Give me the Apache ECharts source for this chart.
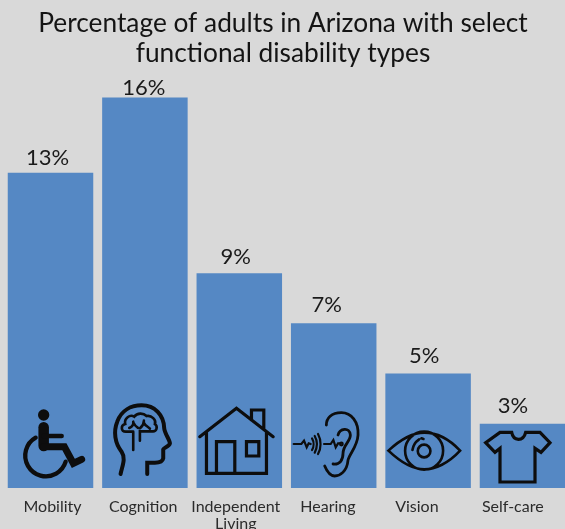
<!DOCTYPE html>
<html>
<head>
<meta charset="utf-8">
<style>
  html, body { margin: 0; padding: 0; background: #d9d9d9; }
  #main { width: 565px; height: 529px; }
</style>
<script src="https://cdn.jsdelivr.net/npm/echarts@6/dist/echarts.min.js"></script>
</head>
<body>
<div id="main"></div>
<script>
var categories = ["Mobility", "Cognition", "Independent\nLiving", "Hearing", "Vision", "Self-care"];
var percents = [13, 16, 9, 7, 5, 3];
var labelGaps = [4, -1, 5, 7, 7, 7];
// the labels in the original do not sit centred on their bars
var valueLabelShift = [-3, -1, -3.5, -7, -4, -9.5];
var axisLabelShift = [2, -1.7, -3.5, -5.8, -11.2, -9.7];

// icon outlines, traced at 3x: [path, line width]. box = left edge of a 270 unit box
var iconBoxLeft = [16.5, 300, 583.5, 12, 294, 577.5];
var icons = [
  [
    ["M123 75 A8 8 0 1 1 139 75 A8 8 0 1 1 123 75", 6],
    ["M131 112 L131 168", 10.5],
    ["M131 138 L185 138", 4.5],
    ["M131 170 L193 170 L220 220 L245 208", 7],
    ["M107 143 A62 62 0 1 0 197 215", 4.3]
  ],
  [
    ["M362 252 C368 225 378 205 365 185 C345 160 340 125 352 95 C365 60 395 46 425 46 C465 46 492 75 493 115 C494 130 510 150 510 160 C508 170 492 172 490 178 L490 205 C488 215 478 218 465 218 L442 218 L442 252", 4],
    ["M400 125 L378 125 C362 125 362 105 376 102 C372 85 390 72 403 80 C412 68 430 68 440 78 C455 75 470 90 465 102 C475 110 470 125 458 124 L420 124 L420 152 M400 125 L400 180 M400 95 C402 105 392 112 388 114 M402 100 C405 108 412 112 415 114 M432 92 C432 105 425 110 420 115 M432 98 C436 108 445 110 450 116", 2.6]
  ],
  [
    ["M600 140 L710 55 L820 140 M755 90 L755 60 L792 60 L792 118 M620 128 L620 250 L800 250 L800 128 M650 250 L650 155 L705 155 L705 250 M740 155 L777 155 L777 198 L740 198 Z", 3.2]
  ],
  [
    ["M125 105 C125 85 140 68 170 68 C200 68 222 95 220 135 C218 170 195 190 190 210 C187 245 165 258 150 258 C135 258 125 240 120 228 M160 135 C165 115 195 110 197 135 C197 155 175 165 175 190 C175 210 165 225 145 222", 2.8],
    ["M27 162 L50 162 L58 152 L66 172 L72 160 L78 162 M118 162 L138 162 L146 150 L153 172 L160 160 L166 160 M166 162 A4 4 0 1 1 174 162 A4 4 0 1 1 166 162 M82 145 C88 155 88 170 82 180 M90 138 C98 152 98 172 90 188 M100 132 C110 150 110 175 100 192", 2.2]
  ],
  [
    ["M310 182 C350 145 385 128 418 128 C450 128 490 145 525 182 C490 220 450 238 418 238 C385 238 350 220 310 182 Z M360 182 A57 57 0 1 1 474 182 A57 57 0 1 1 360 182 M398 183 A19 19 0 1 1 436 183 A19 19 0 1 1 398 183 M382 180 C384 165 392 155 402 148 M409 145 L415 147", 2.6]
  ],
  [
    ["M645 127 L680 127 C685 155 715 155 722 127 L765 127 L795 158 L768 187 L750 175 L750 276 L645 276 L645 175 L630 187 L602 158 Z", 3.2]
  ]
];

var axisFloor = 0.44;
var uiFont = "Lato";
var chart = echarts.init(document.getElementById("main"));

function renderIcon(params, api) {
    var i = params.dataIndex;
    var base = api.coord([i, axisFloor]);
    var left = iconBoxLeft[i];
    var anchor = "M" + left + " 24 M" + (left + 270) + " 294 ";
    return {
        type: "group",
        children: icons[i].map(function (part) {
            return {
                type: "path",
                shape: {
                    pathData: anchor + part[0],
                    x: base[0] - 45,
                    y: base[1] - 90,
                    width: 90,
                    height: 90,
                    layout: "cover"
                },
                style: { fill: null, stroke: "#0d0d0d", lineWidth: part[1], lineCap: "round", lineJoin: "miter" }
            };
        })
    };
}

// one rich style per label, the padding pushes it sideways
var axisRich = {};
axisLabelShift.forEach(function (s, i) {
    axisRich["c" + i] = {
        fontFamily: uiFont,
        fontSize: 16,
        lineHeight: 17,
        color: "#2b2b2b",
        padding: [0, s < 0 ? -2 * s : 0, 0, s > 0 ? 2 * s : 0]
    };
});

chart.setOption({
    animation: false,
    backgroundColor: "#d9d9d9",
    title: {
        text: "Percentage of adults in Arizona with select\nfunctional disability types",
        left: 278,
        top: 4,
        textAlign: "center",
        textStyle: { fontFamily: uiFont, fontWeight: "normal", fontSize: 26.3, lineHeight: 30, color: "#141414" }
    },
    grid: { left: 3.3, right: -4.7, top: 97.5, bottom: 41, outerBoundsMode: "none", containLabel: false },
    xAxis: {
        type: "category",
        data: categories,
        axisLine: { show: false },
        axisTick: { show: false },
        axisLabel: {
            interval: 0,
            margin: 10,
            hideOverlap: false,
            formatter: function (value, index) {
                return value.split("\n").map(function (line) {
                    return "{c" + index + "|" + line + "}";
                }).join("\n");
            },
            rich: axisRich
        }
    },
    yAxis: { type: "value", min: axisFloor, max: 16, show: false },
    series: [
        {
            type: "bar",
            barWidth: 85.5,
            itemStyle: { color: "#5588c4" },
            data: percents.map(function (v, i) {
                return {
                    value: v,
                    label: {
                        show: true,
                        position: "top",
                        distance: labelGaps[i],
                        offset: [valueLabelShift[i], 0],
                        formatter: "{c}%",
                        fontFamily: uiFont,
                        fontSize: 22,
                        color: "#1a1a1a"
                    }
                };
            })
        },
        {
            type: "custom",
            renderItem: renderIcon,
            clip: false,
            silent: true,
            encode: { x: 0 },
            data: categories.map(function (c, i) { return [i]; }),
            z: 5
        }
    ]
});
</script>
</body>
</html>
